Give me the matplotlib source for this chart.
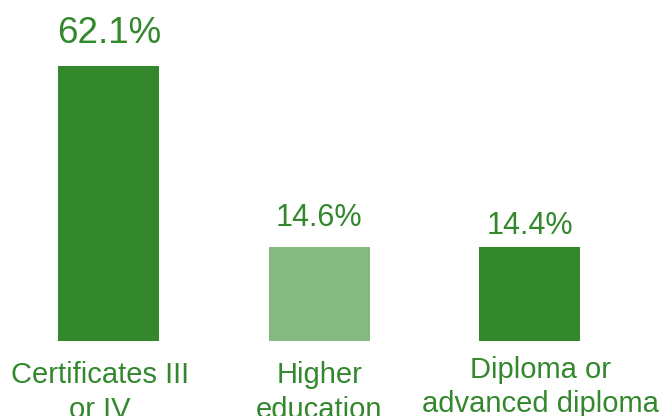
import matplotlib
matplotlib.use("Agg")
import matplotlib.pyplot as plt
import numpy as np

categories = ["Certificates III\nor IV", "Higher\neducation", "Diploma or\nadvanced diploma"]
values = [62.1, 14.6, 14.4]
value_labels = ["62.1%", "14.6%", "14.4%"]

DARK = "#33882D"
LIGHT = "#86B881"
bar_colors = [DARK, LIGHT, DARK]
label_sizes = [26.5, 22, 22]
label_offsets = [16.5, 15.0, 10]     # points above bar top (baseline)
cat_offsets_y = [14.5, 14.5, 10.5]   # points below axis bottom
cat_offsets_x = [-6.5, 0, 8]         # points horizontal shift

plt.rcParams['font.family'] = ['Liberation Sans', 'DejaVu Sans']

fig = plt.figure(figsize=(6.61, 4.16), dpi=100)
ax = fig.add_axes([0, 0.1803, 1, 0.8197])

base = -10.2
x = np.arange(len(categories))
vals = np.array(values)
ax.bar(x, vals - base, bottom=base, width=0.48, color=bar_colors)
ax.set_ylim(base, 79.5)
ax.set_xlim(-0.518, 2.625)

for i, (v, lab) in enumerate(zip(values, value_labels)):
    ax.annotate(lab, (x[i], v), xytext=(0, label_offsets[i]), textcoords='offset points',
                ha='center', va='baseline', fontsize=label_sizes[i], color=DARK)

for i, cat in enumerate(categories):
    ax.annotate(cat, (x[i], 0), xycoords=('data', 'axes fraction'),
                xytext=(cat_offsets_x[i], -cat_offsets_y[i]), textcoords='offset points',
                ha='center', va='top', fontsize=21, color=DARK,
                linespacing=1.3, annotation_clip=False)

ax.axis('off')
fig.savefig("out.png", dpi=100)
